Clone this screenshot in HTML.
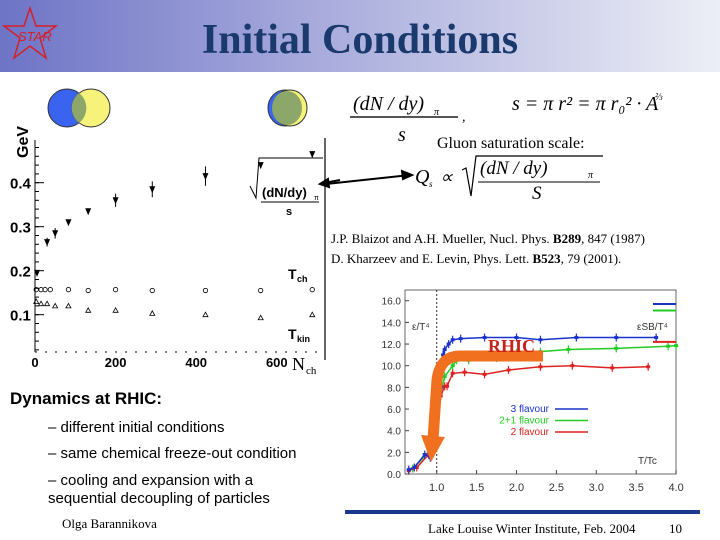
<!DOCTYPE html>
<html><head><meta charset="utf-8"><style>
html,body{margin:0;padding:0;background:#fff;}
svg{display:block;font-family:"Liberation Sans",sans-serif;}
.serif{font-family:"Liberation Serif",serif;}
</style></head><body>
<svg id="s" width="720" height="540" viewBox="0 0 720 540" xmlns="http://www.w3.org/2000/svg">
<defs>
<linearGradient id="hg" x1="0" x2="1" y1="0" y2="0">
<stop offset="0" stop-color="#6e74c6"/><stop offset="0.45" stop-color="#a9acdc"/><stop offset="1" stop-color="#eceef6"/>
</linearGradient>
</defs>
<rect x="0" y="0" width="720" height="72" fill="url(#hg)"/>
<g>
<polygon points="30,8 36,26 56,26 40,38 46,58 30,46 14,58 20,38 4,26 24,26" fill="none" stroke="#d4202a" stroke-width="1.5"/>
<text x="18" y="41" font-size="13" fill="#d4202a" font-style="italic">STAR</text>
</g>
<text x="360" y="53" text-anchor="middle" class="serif" font-size="42" font-weight="bold" fill="#1a3a6e">Initial Conditions</text>

<g>
<ellipse cx="67" cy="108" rx="19" ry="19" fill="#3a63f0" stroke="#333"/>
<ellipse cx="91" cy="108" rx="19" ry="19" fill="#f7f37a" stroke="#333"/>
<path d="M79,93 A19,19 0 0 1 79,123 A19,19 0 0 1 79,93Z" fill="#8da66a"/>
</g>
<g>
<ellipse cx="285" cy="108" rx="17" ry="18" fill="#3a63f0" stroke="#333"/>
<ellipse cx="290" cy="108" rx="17" ry="18" fill="#f7f37a" stroke="#333"/>
<ellipse cx="287" cy="108" rx="15" ry="17" fill="#8da66a"/>
</g>

<g class="serif" font-style="italic">
<text x="353" y="110" font-size="20">(dN / dy)</text><text x="434" y="115" font-size="10">π</text>
<line x1="350" y1="117" x2="458" y2="117" stroke="#555" stroke-width="2"/>
<text x="462" y="121" font-size="14">,</text>
<text x="398" y="141" font-size="20">s</text>
<text x="512" y="110" font-size="20">s = π r² = π r₀² · A</text><text x="655" y="100" font-size="10">⅔</text>
</g>
<text x="437" y="148" class="serif" font-size="16">Gluon saturation scale:</text>
<g class="serif" font-style="italic">
<text x="415" y="183" font-size="20">Q</text><text x="429" y="187" font-size="9">s</text>
<text x="440" y="183" font-size="18">∝</text>
<polyline points="462,170 466,168 471,196 476,156 603,156" fill="none" stroke="#000" stroke-width="1.2"/>
<text x="480" y="174" font-size="19">(dN / dy)</text><text x="588" y="178" font-size="10">π</text>
<line x1="478" y1="182" x2="600" y2="182" stroke="#000"/>
<text x="532" y="199" font-size="19">S</text>
</g>
<g stroke="#000" stroke-width="2" fill="#000">
<line x1="326" y1="184" x2="410" y2="175"/><polygon points="412,175 402,171 403,179"/>
<line x1="340" y1="180" x2="324" y2="183"/><polygon points="320,184 328,179 329,187"/>
</g>
<g class="serif" font-size="13">
<text x="331" y="243">J.P. Blaizot and A.H. Mueller, Nucl. Phys. <tspan font-weight="bold">B289</tspan>, 847 (1987)</text>
<text x="331" y="263">D. Kharzeev and  E. Levin, Phys. Lett. <tspan font-weight="bold">B523</tspan>, 79 (2001).</text>
</g>

<g id="lc"></g>
<g id="rc"></g>

<text x="10" y="404" font-size="17" font-weight="bold">Dynamics at RHIC:</text>
<g font-size="15">
<text x="48" y="432">– different initial conditions</text>
<text x="48" y="458">– same chemical freeze-out condition</text>
<text x="48" y="485">– cooling and expansion with a</text>
<text x="48" y="503">sequential decoupling of particles</text>
</g>
<text x="62" y="528" class="serif" font-size="13">Olga Barannikova</text>
<rect x="345" y="510" width="355" height="4" fill="#1a3a8e"/>
<text x="428" y="533" class="serif" font-size="13">Lake Louise Winter Institute, Feb. 2004</text>
<text x="669" y="533" class="serif" font-size="13">10</text>
</svg>
<script>
// Left chart data
const nchStar=[5,30,50,83,132,200,291,423,560,688];
const valStar=[0.195,0.265,0.285,0.31,0.335,0.36,0.385,0.415,0.44,0.465];
const errStar=[0.005,0.01,0.012,0.005,0.006,0.015,0.018,0.022,0.006,0.006];
const nchCirc=[3,15,25,38,83,132,200,291,423,560,688];
const valTch=[0.157,0.157,0.157,0.157,0.157,0.155,0.157,0.155,0.155,0.155,0.157];
const nchTri=[3,15,30,50,83,132,200,291,423,560,688];
const valTkin=[0.13,0.125,0.125,0.12,0.12,0.11,0.11,0.103,0.1,0.093,0.1];
const leftXTicks=[0,200,400,600];
const leftYTicks=[0.1,0.2,0.3,0.4];
// Right chart data
const tBlue=[0.65,0.72,0.85,0.92,1.0,1.05,1.08,1.1,1.15,1.2,1.3,1.6,2.0,2.3,2.75,3.25,3.75];
const eBlue=[0.4,0.6,1.8,1.5,4.0,8.0,11.0,11.5,12.0,12.4,12.5,12.6,12.6,12.4,12.6,12.6,12.6];
const tGreen=[0.7,0.9,1.0,1.05,1.1,1.2,1.25,1.4,1.75,2.0,2.3,2.65,3.25,3.9,4.0];
const eGreen=[0.5,2.0,4.0,7.5,9.0,10.0,10.5,10.5,10.7,11.2,11.3,11.5,11.6,11.8,11.85];
const tRed=[0.65,0.75,0.9,1.0,1.05,1.1,1.13,1.2,1.35,1.6,1.9,2.3,2.7,3.2,3.65];
const eRed=[0.3,0.6,1.8,4.5,7.2,8.1,8.1,9.3,9.4,9.2,9.6,9.9,10.0,9.8,9.9];
const sbVals=[15.7,15.1,12.2];
const rightXTicks=[1.0,1.5,2.0,2.5,3.0,3.5,4.0];
const rightYTicks=[0,2,4,6,8,10,12,14,16];

const NS='http://www.w3.org/2000/svg';
function mk(p,tag,attrs,txt){const e=document.createElementNS(NS,tag);for(const k in attrs)e.setAttribute(k,attrs[k]);if(txt!==undefined)e.textContent=txt;p.appendChild(e);return e;}

// Left chart
const lc=document.getElementById('lc');
const lx=v=>35+v*0.403;
const ly=v=>226.7-(v-0.3)*440;
mk(lc,'line',{x1:35,y1:140,x2:35,y2:352,stroke:'#000','stroke-width':1});
mk(lc,'line',{x1:35,y1:352,x2:322,y2:352,stroke:'#000','stroke-width':1,'stroke-dasharray':'2 8'});
mk(lc,'line',{x1:325,y1:138,x2:325,y2:360,stroke:'#000','stroke-width':1.2});
mk(lc,'text',{x:5,y:165,'font-size':16,'font-weight':'bold',transform:'rotate(-90 13 150)'},'GeV');
for(const t of leftXTicks){
  const tx=mk(lc,'text',{x:lx(t),y:367,'font-size':13,'font-weight':'bold','text-anchor':'middle'},String(t));
  
  
}
for(const t of leftYTicks){
  mk(lc,'line',{x1:35,y1:ly(t),x2:44,y2:ly(t),stroke:'#000'});
  const tx=mk(lc,'text',{x:10,y:ly(t)+6,'font-size':15,'font-weight':'bold'},t.toFixed(1));
  
  
}
for(let v=0.02;v<0.5;v+=0.02){mk(lc,'line',{x1:35,y1:ly(v),x2:39,y2:ly(v),stroke:'#000'});}
for(let i=0;i<nchStar.length;i++){
  const x=lx(nchStar[i]),y=ly(valStar[i]);
  const g=mk(lc,'g',{});
  
  
  mk(g,'line',{x1:x,y1:ly(valStar[i]+errStar[i]),x2:x,y2:ly(valStar[i]-errStar[i]),stroke:'#000'});
  mk(g,'polygon',{points:`${x-3},${y-3} ${x+3},${y-3} ${x},${y+4}`,fill:'#000'});
}
for(let i=0;i<nchCirc.length;i++){
  const c=mk(lc,'circle',{cx:lx(nchCirc[i]),cy:ly(valTch[i]),r:2.2,fill:'none',stroke:'#000','stroke-width':0.8});
  
  
}
for(let i=0;i<nchTri.length;i++){
  const x=lx(nchTri[i]),y=ly(valTkin[i]);
  const p=mk(lc,'polygon',{points:`${x-2.5},${y+2} ${x+2.5},${y+2} ${x},${y-2.5}`,fill:'none',stroke:'#000','stroke-width':0.8});
  
  
}
mk(lc,'text',{x:288,y:279,'font-size':14,'font-weight':'bold'},'T');
mk(lc,'text',{x:297,y:282,'font-size':9,'font-weight':'bold'},'ch');
mk(lc,'text',{x:288,y:339,'font-size':14,'font-weight':'bold'},'T');
mk(lc,'text',{x:297,y:342,'font-size':9,'font-weight':'bold'},'kin');
mk(lc,'text',{x:292,y:370,'font-size':18,class:'serif'},'N');
mk(lc,'text',{x:306,y:374,'font-size':11,class:'serif'},'ch');
mk(lc,'polyline',{points:'250,186 256,198 259,158 323,158',fill:'none',stroke:'#000','stroke-width':1});
mk(lc,'text',{x:262,y:197,'font-size':13,'font-weight':'bold'},'(dN/dy)');
mk(lc,'text',{x:314,y:200,'font-size':7},'π');
mk(lc,'line',{x1:261,y1:202,x2:319,y2:202,stroke:'#000'});
mk(lc,'text',{x:286,y:215,'font-size':11,'font-weight':'bold'},'s');

// Right chart
const rc=document.getElementById('rc');
const rx=v=>436.7+(v-1)*79.8;
const ry=v=>474-v*10.83;
mk(rc,'rect',{x:405,y:290,width:271,height:184,fill:'none',stroke:'#444','stroke-width':0.8});
mk(rc,'line',{x1:rx(1),y1:290,x2:rx(1),y2:474,stroke:'#333','stroke-dasharray':'2 2'});
for(const t of rightXTicks){
  mk(rc,'line',{x1:rx(t),y1:474,x2:rx(t),y2:470,stroke:'#444'});
  const tx=mk(rc,'text',{x:rx(t),y:491,'font-size':11,fill:'#333','text-anchor':'middle'},t.toFixed(1));
  
  
}
for(const t of rightYTicks){
  mk(rc,'line',{x1:405,y1:ry(t),x2:409,y2:ry(t),stroke:'#444'});
  const tx=mk(rc,'text',{x:401,y:ry(t)+4,'font-size':10,fill:'#333','text-anchor':'end'},t.toFixed(1));
  
  
}
function series(ts,es,col,name){
  const pts=ts.map((t,i)=>`${rx(t)},${ry(es[i])}`).join(' ');
  const pl=mk(rc,'polyline',{points:pts,fill:'none',stroke:col,'stroke-width':1.5});
  
  
  ts.forEach((t,i)=>{const x=rx(t),y=ry(es[i]);
    mk(rc,'line',{x1:x,y1:y-4,x2:x,y2:y+4,stroke:col,'stroke-width':1.2});
    mk(rc,'rect',{x:x-2,y:y-1.5,width:4,height:3,fill:col});});
}
series(tGreen,eGreen,'#22cc22','series-2plus1-flavour');
series(tRed,eRed,'#dd2222','series-2-flavour');
series(tBlue,eBlue,'#1a33cc','series-3-flavour');
const sbCols=['#1a33cc','#22cc22','#dd2222'];
sbVals.forEach((v,i)=>{
  const l=mk(rc,'line',{x1:653,y1:ry(v),x2:676,y2:ry(v),stroke:sbCols[i],'stroke-width':2});
  
  
});
mk(rc,'text',{x:412,y:330,'font-size':10,fill:'#333'},'ε/T⁴');
mk(rc,'text',{x:637,y:330,'font-size':10,fill:'#333'},'εSB/T⁴');
mk(rc,'text',{x:638,y:464,'font-size':10,fill:'#333'},'T/Tc');
const leg=[['3 flavour','#1a33cc'],['2+1 flavour','#22cc22'],['2 flavour','#dd2222']];
leg.forEach((l,i)=>{const y=412+i*11.5;
  const t=mk(rc,'text',{x:549,y:y,'font-size':10,fill:l[1],'text-anchor':'end'},l[0]);
  
  
  mk(rc,'line',{x1:555,y1:y-3,x2:588,y2:y-3,stroke:l[1],'stroke-width':1.5});});
// orange arrow
mk(rc,'path',{d:'M543,356 L460,356 Q440,356 437,380 L433,440',fill:'none',stroke:'#f07020','stroke-width':11});
mk(rc,'polygon',{points:'421,435 445,437 431,462',fill:'#f07020'});
mk(rc,'text',{x:488,y:352,'font-size':18,'font-weight':'bold',fill:'#c8201a',class:'serif'},'RHIC');
</script>
</body></html>
